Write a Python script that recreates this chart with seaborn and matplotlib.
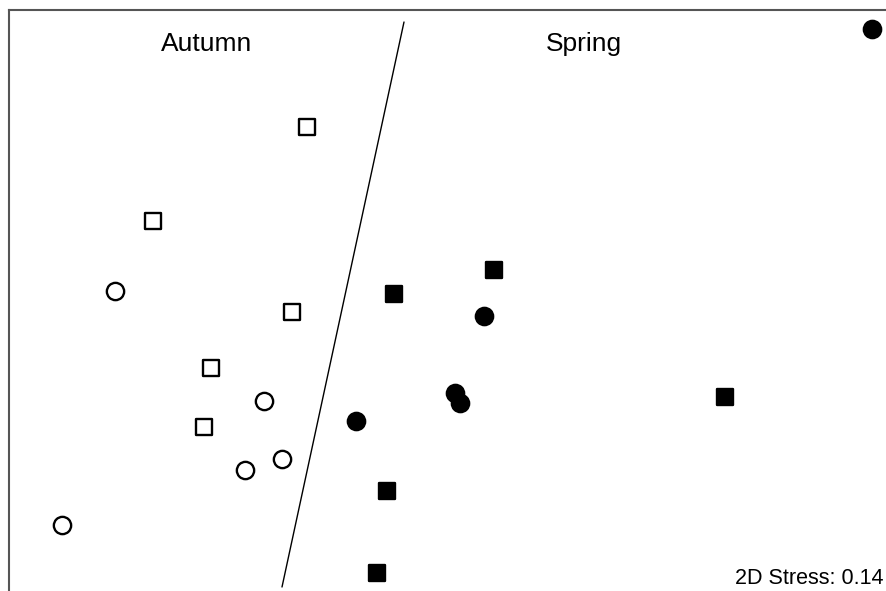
import pandas as pd
import matplotlib
matplotlib.use("Agg")
import matplotlib.pyplot as plt
import seaborn as sns

sns.set_style("white")
plt.rcParams['font.family'] = ['Liberation Sans', 'DejaVu Sans']

# NMDS coordinates (pixel-like units, y grows downwards)
autumn_sq_x = [307, 153, 292, 211, 204]
autumn_sq_y = [127, 221, 312, 368, 427]
autumn_ci_x = [115, 264, 282, 245, 62]
autumn_ci_y = [291, 401, 459, 470, 525]
spring_sq_x = [494, 394, 725, 387, 377]
spring_sq_y = [270, 294, 397, 491, 573]
spring_ci_x = [872, 484, 455, 460, 356]
spring_ci_y = [29, 316, 393, 403, 421]

# season divider
divider_x = [404, 282]
divider_y = [22, 587]

stress_label = "2D Stress: 0.14"

fig = plt.figure(figsize=(8.87, 5.91), dpi=100)
ax = fig.add_axes([9 / 887, 0, 1 - 9 / 887, 1 - 10 / 591])

groups = [
    (autumn_sq_x, autumn_sq_y, "s", "white", 120),
    (autumn_ci_x, autumn_ci_y, "o", "white", 155),
    (spring_sq_x, spring_sq_y, "s", "black", 120),
    (spring_ci_x, spring_ci_y, "o", "black", 155),
]
for gx, gy, mk, fc, size in groups:
    df = pd.DataFrame({"x": gx, "y": gy})
    sns.scatterplot(data=df, x="x", y="y", marker=mk, s=size, color=fc,
                    edgecolor="black", linewidth=1.7, ax=ax, zorder=3)

ax.plot(divider_x, divider_y, color="black", lw=1.0)

ax.text(207, 44, "Autumn", fontsize=19, ha="center", va="center", color="black")
ax.text(584, 44, "Spring", fontsize=19, ha="center", va="center", color="black")
ax.text(884, 578, stress_label, fontsize=15.5, ha="right", va="center", color="black")

ax.set_xlim(9, 887)
ax.set_ylim(591, 10)
ax.set_xlabel("")
ax.set_ylabel("")
ax.set_xticks([])
ax.set_yticks([])
for side in ["right", "bottom"]:
    ax.spines[side].set_visible(False)
for side in ["left", "top"]:
    ax.spines[side].set_color("#555555")
    ax.spines[side].set_linewidth(1.5)

fig.savefig("out.png", dpi=100)
